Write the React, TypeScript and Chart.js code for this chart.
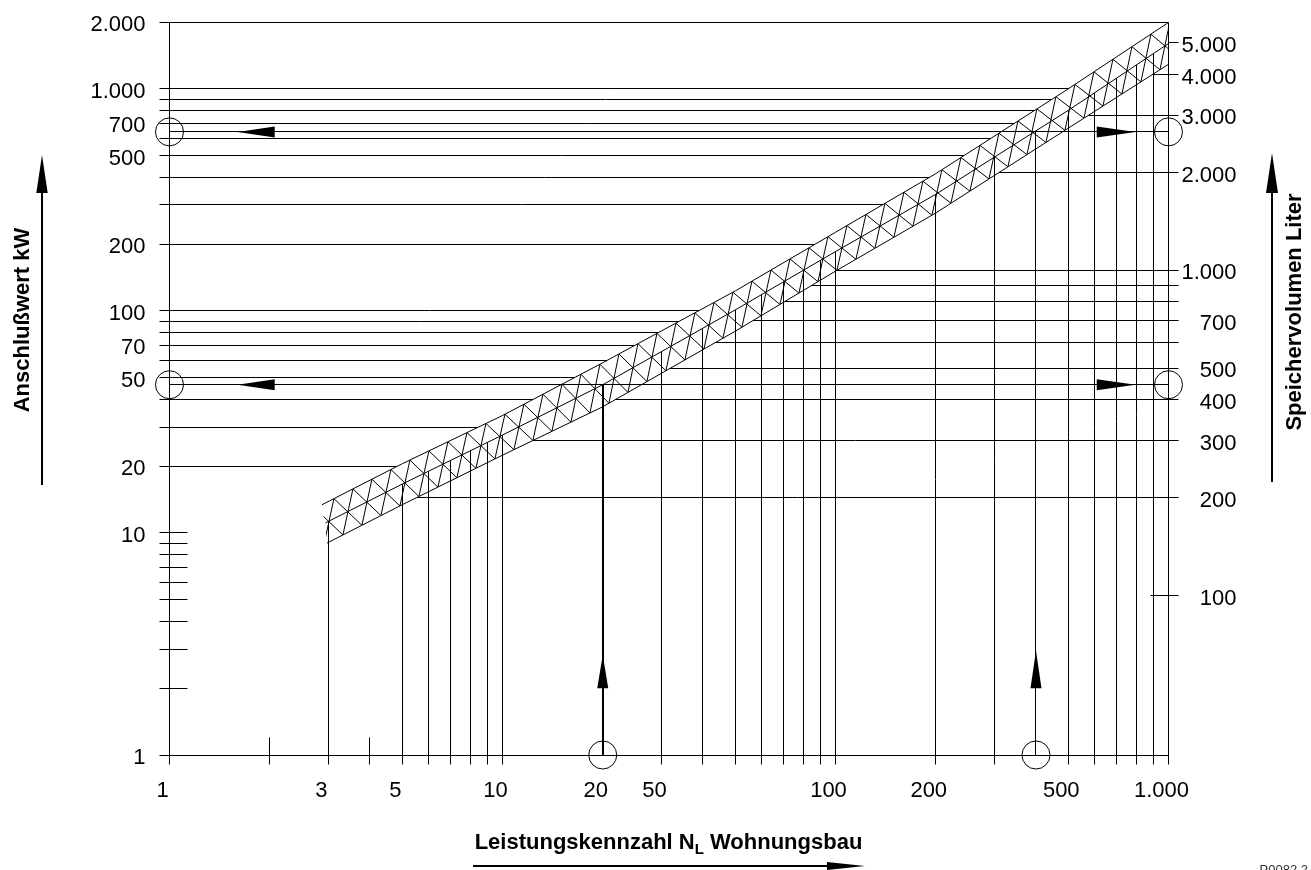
import { useEffect, useRef } from 'react';
import { Chart, registerables } from 'chart.js';

Chart.register(...registerables);

const FONT = "'Liberation Sans', Arial, Helvetica, sans-serif";

// ---------------- axis data ----------------
// X: Leistungskennzahl N_L (logarithmic)
const xTickValues = [1, 3, 5, 10, 20, 30, 100, 200, 500, 1000];
const xTickLabels = ['1', '3', '5', '10', '20', '50', '100', '200', '500', '1.000'];
const xGridValues = [3, 5, 6, 7, 8, 9, 10, 30, 40, 50, 60, 70, 80, 90, 100, 200, 300, 500, 600, 700, 800, 900];
const xShortTicks = [2, 4];

// Left Y: Anschlußwert kW
const kwTickValues = [1, 10, 20, 50, 70, 100, 200, 500, 700, 1000, 2000];
const kwTickLabels = ['1', '10', '20', '50', '70', '100', '200', '500', '700', '1.000', '2.000'];
const kwGridValues = [20, 30, 40, 50, 60, 70, 80, 90, 100, 200, 300, 400, 500, 600, 700, 800, 900, 1000];
const kwShortTicks = [2, 3, 4, 5, 6, 7, 8, 9, 10];

// Right Y: Speichervolumen Liter
const literTickValues = [100, 200, 300, 400, 500, 700, 1000, 2000, 3000, 4000, 5000];
const literTickLabels = ['100', '200', '300', '400', '500', '700', '1.000', '2.000', '3.000', '4.000', '5.000'];
const literGridValues = [200, 300, 400, 500, 600, 700, 800, 900, 1000, 2000, 3000, 4000, 5000];
const literShortTicks = [100];

// ---------------- band (N_L -> kW) ----------------
const upperN = [2.87, 5, 10, 20, 50, 100, 200, 500, 1000];
const upperKW = [13.4, 20.5, 33.8, 58.4, 123, 226, 415, 1000, 1990];
const middleN = [2.94, 5, 10, 20, 50, 100, 200, 500, 1000];
const middleKW = [11.1, 16.6, 27.6, 46.5, 101, 185, 335, 800, 1600];
const lowerN = [2.97, 5, 10, 20, 50, 100, 200, 500, 1000];
const lowerKW = [9.0, 13.4, 22.4, 37, 81, 151, 276, 665, 1290];

// ---------------- worked examples ----------------
const exampleN = [20, 400];
const exampleKW = [46.5, 640];
const arrowLeftTipN = 1.6;
const arrowLeftBaseN = 2.07;
const arrowRightTipN = 796;
const arrowRightBaseN = 609;
const arrowUpTipKW = [2.82, 2.95];
const arrowUpBaseKW = [2.0, 2.0];

type P = { x: number; y: number };

const px = (v: number) => Math.round(v - 0.5) + 0.5;

function curve(xs: any, ys: any, ns: number[], vs: number[]): P[] {
  return ns.map((n, i) => ({ x: xs.getPixelForValue(n), y: ys.getPixelForValue(vs[i]) }));
}

function interpY(p: P[], x: number): number {
  let a = p[0], b = p[1];
  if (x > p[0].x) {
    a = p[p.length - 2];
    b = p[p.length - 1];
    for (let i = 1; i < p.length; i++) {
      if (x <= p[i].x) {
        a = p[i - 1];
        b = p[i];
        break;
      }
    }
  }
  return a.y + ((b.y - a.y) * (x - a.x)) / (b.x - a.x);
}

function xAtY(p: P[], y: number): number {
  for (let i = 1; i < p.length; i++) {
    const a = p[i - 1], b = p[i];
    if (y <= a.y && y >= b.y) return a.x + ((b.x - a.x) * (y - a.y)) / (b.y - a.y);
  }
  const [a, b] = y > p[0].y ? [p[0], p[1]] : [p[p.length - 2], p[p.length - 1]];
  return a.x + ((b.x - a.x) * (y - a.y)) / (b.y - a.y);
}

function seg(ctx: CanvasRenderingContext2D, x1: number, y1: number, x2: number, y2: number) {
  ctx.beginPath();
  ctx.moveTo(x1, y1);
  ctx.lineTo(x2, y2);
  ctx.stroke();
}

function tri(ctx: CanvasRenderingContext2D, pts: number[][]) {
  ctx.beginPath();
  ctx.moveTo(pts[0][0], pts[0][1]);
  for (let i = 1; i < pts.length; i++) ctx.lineTo(pts[i][0], pts[i][1]);
  ctx.closePath();
  ctx.fill();
}

const nomogramPlugin = {
  id: 'nomogram',
  beforeDatasetsDraw(chart: any) {
    const { ctx, chartArea: a, scales } = chart;
    const xs = scales.x, ys = scales.y, y2 = scales.y2;
    const up = curve(xs, ys, upperN, upperKW);
    const mid = curve(xs, ys, middleN, middleKW);
    const lo = curve(xs, ys, lowerN, lowerKW);
    const L = px(a.left), R = px(a.right), T = px(a.top), B = px(a.bottom);
    ctx.save();
    ctx.strokeStyle = '#000';
    ctx.lineWidth = 1;
    // frame
    seg(ctx, L - 10, T, R, T);
    seg(ctx, L - 10, B, R, B);
    seg(ctx, L, T, L, B + 9);
    seg(ctx, R, T, R, B + 9);
    // left kW lines up to upper band edge
    kwGridValues.forEach((v) => {
      const y = px(ys.getPixelForValue(v));
      seg(ctx, L - 10, y, Math.min(xAtY(up, y), R), y);
    });
    kwShortTicks.forEach((v) => {
      const y = px(ys.getPixelForValue(v));
      seg(ctx, L - 10, y, L + 18, y);
    });
    // vertical N lines up to middle line
    xGridValues.forEach((n) => {
      const x = px(xs.getPixelForValue(n));
      seg(ctx, x, B + 9, x, interpY(mid, x));
    });
    xShortTicks.forEach((n) => {
      const x = px(xs.getPixelForValue(n));
      seg(ctx, x, B - 18, x, B + 9);
    });
    // right liter lines from lower band edge
    literGridValues.forEach((v) => {
      const y = px(y2.getPixelForValue(v));
      seg(ctx, Math.min(xAtY(lo, y), R), y, R + 10, y);
    });
    literShortTicks.forEach((v) => {
      const y = px(y2.getPixelForValue(v));
      seg(ctx, R - 18, y, R + 10, y);
    });
    // worked example lines
    exampleKW.forEach((v) => {
      const y = px(ys.getPixelForValue(v));
      seg(ctx, L, y, R, y);
    });
    exampleN.forEach((n, i) => {
      const x = i === 0 ? Math.round(xs.getPixelForValue(n)) : px(xs.getPixelForValue(n));
      ctx.lineWidth = i === 0 ? 2 : 1;
      seg(ctx, x, B, x, ys.getPixelForValue(exampleKW[i]));
    });
    ctx.restore();
  },
  afterDatasetsDraw(chart: any) {
    const { ctx, chartArea: a, scales } = chart;
    const xs = scales.x, ys = scales.y;
    const up = curve(xs, ys, upperN, upperKW);
    const lo = curve(xs, ys, lowerN, lowerKW);
    // hatch
    ctx.save();
    ctx.beginPath();
    const poly = [...up, ...lo.slice().reverse()];
    poly.forEach((p, i) => (i ? ctx.lineTo(p.x, p.y) : ctx.moveTo(p.x, p.y)));
    ctx.closePath();
    ctx.clip();
    ctx.strokeStyle = '#000';
    ctx.lineWidth = 1;
    const start = lo[0].x - 60;
    for (let u = start; u < a.right + 60; u += 19) {
      seg(ctx, u, interpY(lo, u), u + 10, interpY(up, u + 10));
      const v = u - 9;
      seg(ctx, v, interpY(up, v), v + 28, interpY(lo, v + 28));
    }
    ctx.restore();

    // circles and arrowheads
    ctx.save();
    ctx.strokeStyle = '#000';
    ctx.fillStyle = '#000';
    ctx.lineWidth = 1;
    const L = a.left, R = a.right, B = a.bottom;
    const circle = (x: number, y: number) => {
      ctx.beginPath();
      ctx.arc(x, y, 14, 0, Math.PI * 2);
      ctx.stroke();
    };
    exampleKW.forEach((v) => {
      const y = ys.getPixelForValue(v);
      circle(L, y);
      circle(R, y);
      const lt = xs.getPixelForValue(arrowLeftTipN), lb = xs.getPixelForValue(arrowLeftBaseN);
      tri(ctx, [[lt, y], [lb, y - 5.5], [lb, y + 5.5]]);
      const rt = xs.getPixelForValue(arrowRightTipN), rb = xs.getPixelForValue(arrowRightBaseN);
      tri(ctx, [[rt, y], [rb, y - 5.5], [rb, y + 5.5]]);
    });
    exampleN.forEach((n, i) => {
      const x = xs.getPixelForValue(n);
      circle(x, B);
      const t = ys.getPixelForValue(arrowUpTipKW[i]), b = ys.getPixelForValue(arrowUpBaseKW[i]);
      tri(ctx, [[x, t], [x - 5.5, b], [x + 5.5, b]]);
    });
    ctx.restore();
  },
  afterDraw(chart: any) {
    const { ctx } = chart;
    ctx.save();
    ctx.fillStyle = '#000';
    ctx.strokeStyle = '#000';
    // left title + arrow
    ctx.font = `bold 22px ${FONT}`;
    ctx.textAlign = 'center';
    ctx.textBaseline = 'middle';
    ctx.save();
    ctx.translate(22, 320);
    ctx.rotate(-Math.PI / 2);
    ctx.fillText('Anschlußwert kW', 0, 1);
    ctx.restore();
    ctx.lineWidth = 2;
    seg(ctx, 42, 485, 42, 190);
    tri(ctx, [[42, 155], [36.3, 193], [47.7, 193]]);
    // right title + arrow
    ctx.save();
    ctx.translate(1294, 312);
    ctx.rotate(-Math.PI / 2);
    ctx.fillText('Speichervolumen Liter', 0, 1);
    ctx.restore();
    seg(ctx, 1272, 482, 1272, 190);
    tri(ctx, [[1272, 153], [1266, 193], [1278, 193]]);
    // bottom title with subscript
    const parts: [string, number, number][] = [
      ['Leistungskennzahl N', 22, 0],
      ['L', 15, 5],
      [' Wohnungsbau', 22, 0],
    ];
    ctx.textAlign = 'left';
    ctx.textBaseline = 'alphabetic';
    let total = 0;
    parts.forEach(([t, s]) => {
      ctx.font = `bold ${s}px ${FONT}`;
      total += ctx.measureText(t).width;
    });
    let x = 668.5 - total / 2;
    parts.forEach(([t, s, dy]) => {
      ctx.font = `bold ${s}px ${FONT}`;
      ctx.fillText(t, x, 849 + dy);
      x += ctx.measureText(t).width;
    });
    seg(ctx, 473, 866, 830, 866);
    tri(ctx, [[865, 866], [827, 862], [827, 870]]);
    // drawing number
    ctx.font = `13px ${FONT}`;
    ctx.fillStyle = '#333';
    ctx.textAlign = 'right';
    ctx.textBaseline = 'top';
    ctx.fillText('P0082.2', 1308, 864);
    ctx.restore();
  },
};

const tickFont = { family: FONT, size: 22 };

const noPad = (s: any) => {
  s.paddingTop = 0;
  s.paddingBottom = 0;
  s.paddingLeft = 0;
  s.paddingRight = 0;
};

export default function App() {
  const ref = useRef<HTMLCanvasElement>(null);
  useEffect(() => {
    if (!ref.current) return;
    const line = (label: string, ns: number[], vs: number[]) => ({
      label,
      data: ns.map((n, i) => ({ x: n, y: vs[i] })),
      borderColor: '#000',
      borderWidth: 1,
      pointRadius: 0,
      tension: 0,
      fill: false,
    });
    const chart = new Chart(ref.current, {
      type: 'line',
      data: {
        datasets: [
          line('obere Grenze', upperN, upperKW),
          line('Mittelwert', middleN, middleKW),
          line('untere Grenze', lowerN, lowerKW),
        ],
      },
      options: {
        responsive: false,
        animation: false,
        events: [],
        layout: { autoPadding: false, padding: { left: 0, top: 22, right: 74.5, bottom: 0 } },
        plugins: { legend: { display: false }, tooltip: { enabled: false }, title: { display: false } },
        scales: {
          x: {
            type: 'logarithmic',
            position: 'bottom',
            min: 1,
            max: 1000,
            bounds: 'data',
            grid: { display: false, drawTicks: false },
            border: { display: false },
            afterBuildTicks: (s: any) => {
              s.ticks = xTickValues.map((v) => ({ value: v }));
            },
            afterFit: (s: any) => {
              s.height = 115;
              noPad(s);
            },
            ticks: {
              autoSkip: false,
              maxRotation: 0,
              minRotation: 0,
              padding: 23,
              labelOffset: -7,
              color: '#000',
              font: tickFont,
              callback: (_v: any, i: number) => xTickLabels[i],
            },
          },
          y: {
            type: 'logarithmic',
            position: 'left',
            min: 1,
            max: 2000,
            bounds: 'data',
            grid: { display: false, drawTicks: false },
            border: { display: false },
            afterBuildTicks: (s: any) => {
              s.ticks = kwTickValues.map((v) => ({ value: v }));
            },
            afterFit: (s: any) => {
              s.width = 169.5;
              noPad(s);
            },
            ticks: {
              autoSkip: false,
              padding: 24,
              labelOffset: 3,
              color: '#000',
              font: tickFont,
              callback: (_v: any, i: number) => kwTickLabels[i],
            },
          },
          y2: {
            type: 'logarithmic',
            position: 'right',
            min: 32.4,
            max: 5800,
            bounds: 'data',
            grid: { display: false, drawTicks: false },
            border: { display: false },
            afterBuildTicks: (s: any) => {
              s.ticks = literTickValues.map((v) => ({ value: v }));
            },
            afterFit: (s: any) => {
              s.width = 68;
              noPad(s);
            },
            ticks: {
              autoSkip: false,
              padding: 10,
              labelOffset: 3,
              crossAlign: 'far',
              color: '#000',
              font: tickFont,
              callback: (_v: any, i: number) => literTickLabels[i],
            },
          },
        },
      } as any,
      plugins: [nomogramPlugin],
    });
    return () => chart.destroy();
  }, []);
  return (
    <div style={{ position: 'absolute', left: 0, top: 0, width: 1311, height: 870, background: '#fff' }}>
      <canvas ref={ref} width={1311} height={870} style={{ width: 1311, height: 870, display: 'block' }} />
    </div>
  );
}
